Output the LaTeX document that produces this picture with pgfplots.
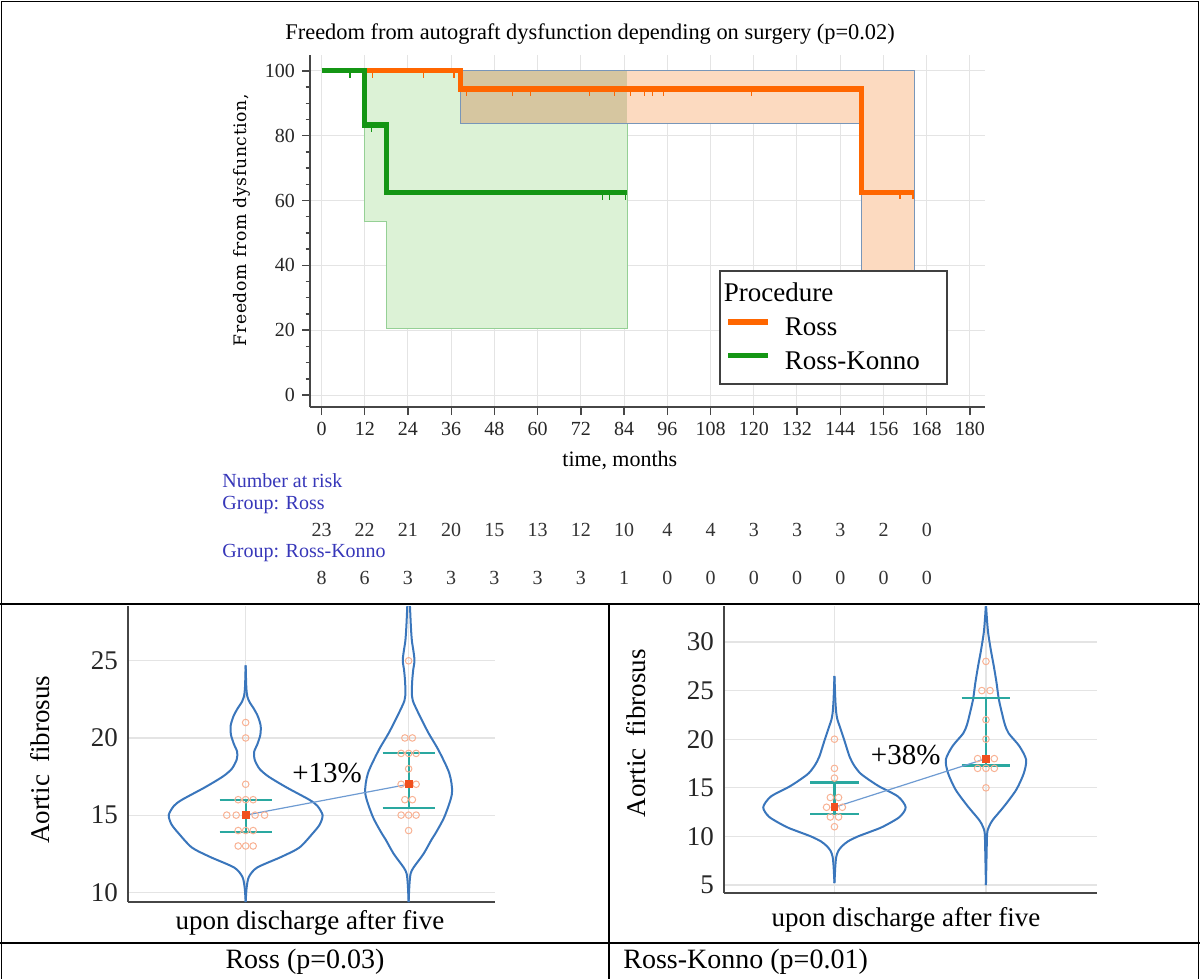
\documentclass[border=0pt]{standalone}
\usepackage{fontspec}
\setmainfont{Liberation Serif}
\newfontfamily\slabfont[LetterSpace=4]{DejaVu Serif}
\usepackage{pgfplots}
\usepackage{pgfplotstable}
\pgfplotsset{compat=1.18}
\definecolor{kmorange}{RGB}{255,102,0}
\definecolor{kmgreen}{RGB}{20,150,20}
\definecolor{bandorange}{RGB}{252,218,192}
\definecolor{bandgreen}{RGB}{220,242,214}
\definecolor{bandmix}{RGB}{214,198,160}
\definecolor{bandblue}{RGB}{120,150,185}
\definecolor{gridgray}{RGB}{228,228,228}
\definecolor{axisgray}{RGB}{70,70,70}
\definecolor{vblue}{RGB}{58,118,188}
\definecolor{ebteal}{RGB}{42,168,160}
\definecolor{meanred}{RGB}{240,80,30}
\definecolor{dotorange}{RGB}{248,178,148}
\definecolor{linkblue}{RGB}{110,155,210}
\definecolor{riskblue}{RGB}{55,55,185}

% violin outlines: y, half-width (category units)
\pgfplotstableread{
y w
9.37 0
10.3 0.006
11.0 0.02
11.6 0.07
12.3 0.22
12.9 0.33
13.8 0.41
14.4 0.455
15.0 0.472
15.6 0.44
16.0 0.39
16.8 0.25
17.5 0.14
18.0 0.085
18.6 0.055
19.1 0.052
19.6 0.072
20.2 0.09
20.8 0.092
21.4 0.075
21.9 0.05
22.3 0.025
22.7 0.01
23.3 0.004
24.7 0
}\vA
\pgfplotstableread{
y w
9.37 0
10.5 0.005
11.2 0.012
11.6 0.03
12.5 0.092
13.4 0.14
13.8 0.164
14.9 0.22
16.4 0.266
17.7 0.25
19.2 0.184
20.3 0.123
21.35 0.072
22.4 0.026
23.0 0.02
23.7 0.022
24.4 0.028
25.0 0.036
25.6 0.03
26.3 0.02
27.2 0.014
28.6 0.008
}\vB
\pgfplotstableread{
y w
5.2 0
7.0 0.006
7.9 0.012
8.5 0.025
9.0 0.05
9.5 0.09
10.0 0.155
10.5 0.24
11.0 0.32
12.0 0.43
13.0 0.47
14.1 0.42
15.1 0.3
15.8 0.23
16.5 0.17
17.3 0.13
18.2 0.1
19.9 0.065
21.3 0.035
22.0 0.02
22.7 0.012
24.0 0.006
26.5 0
}\vC
\pgfplotstableread{
y w
5.0 0
8.0 0.004
10.3 0.008
11.0 0.02
11.7 0.045
13.1 0.12
14.8 0.2
16.5 0.25
17.9 0.265
19.3 0.22
20.6 0.15
21.5 0.125
22.4 0.11
24.1 0.085
25.8 0.07
27.5 0.052
29.2 0.032
31.0 0.014
32.7 0.005
34.0 0
}\vD

\pgfplotsset{
  violinaxis/.style={
    scale only axis, anchor=south west,
    axis x line=bottom, axis y line=left,
    axis line style={-, draw=axisgray, line width=0.9pt},
    xtick={1,2}, xticklabels={,,},
    major tick length=0pt,
    grid=major, major grid style={draw=gridgray, line width=0.6pt},
    ticklabel style={font=\fontsize{13.5}{15}\selectfont, text=black!85},
    yticklabel style={xshift=-1.5pt},
    /pgf/number format/assume math mode=true,
    xlabel={upon discharge after five},
    ylabel={Aortic\hspace{0.45em}fibrosus},
    label style={font=\fontsize{13.5}{15}\selectfont},
  },
  vline/.style={vblue, line width=1pt, smooth, tension=0.45, forget plot},
  ebar/.style={ebteal, line width=1.1pt, forget plot},
  dots/.style={only marks, mark=o, mark size=1.65pt, dotorange, mark options={line width=0.5pt}, forget plot},
}

\begin{document}
\begin{tikzpicture}
%================ Kaplan-Meier =================
\begin{axis}[
  at={(155pt,-203.5pt)}, anchor=south west,
  scale only axis, width=337.5pt, height=176pt,
  xmin=-3.2, xmax=184.2, ymin=-3.7, ymax=104.9,
  axis x line=bottom, axis y line=left,
  axis line style={-, draw=axisgray, line width=1.1pt},
  xtick={0,12,...,180}, ytick={0,20,...,100}, minor y tick num=3,
  tick align=outside, major tick length=4pt, minor tick length=2.2pt,
  tick style={axisgray, line width=0.7pt},
  grid=major, major grid style={draw=gridgray, line width=0.5pt},
  ticklabel style={font=\fontsize{10}{12}\selectfont, text=black!85},
  /pgf/number format/assume math mode=true,
  title={Freedom from autograft dysfunction depending on surgery (p=0.02)},
  title style={at={(axis description cs:0.415,1.025)}, anchor=center, font=\fontsize{11.2}{13}\selectfont},
  xlabel={time, months},
  xlabel style={at={(axis description cs:0.459,-0.153)}, anchor=center, font=\fontsize{11}{12}\selectfont},
  ylabel={Freedom from dysfunction,},
  ylabel style={at={(axis description cs:-0.101,0.531)}, anchor=center, font=\slabfont\fontsize{8.6}{10}\selectfont},
  legend style={at={(axis description cs:0.945,0.0625)}, anchor=south east,
    draw=black!75, line width=0.9pt, fill=white,
    font=\fontsize{13.5}{15}\selectfont, inner xsep=3pt, inner ysep=4.5pt, row sep=3.5pt,
    nodes={inner sep=1.5pt},
    /tikz/every odd column/.append style={column sep=5.5pt}},
  legend cell align=left,
  legend image code/.code={\draw[#1, line width=2.6pt] (0pt,0.3em) -- (20pt,0.3em);},
]
% confidence bands
\addplot[fill=bandgreen, draw=kmgreen!45, line width=0.4pt, forget plot]
  coordinates {(12,100) (84.8,100) (84.8,20.7) (18,20.7) (18,53.7) (12,53.7)} -- cycle;
\addplot[fill=bandorange, draw=none, forget plot]
  coordinates {(38.5,100) (164.5,100) (164.5,25) (150,25) (150,83.8) (38.5,83.8)} -- cycle;
\addplot[fill=bandmix, draw=none, forget plot]
  coordinates {(38.5,100) (84.8,100) (84.8,83.8) (38.5,83.8)} -- cycle;
\addplot[draw=bandblue, line width=0.5pt, forget plot]
  coordinates {(38.5,100) (164.5,100) (164.5,25) (150,25) (150,83.8) (38.5,83.8) (38.5,100)};
% survival curves
\addplot[kmorange, line width=2.6pt, const plot, forget plot]
  coordinates {(0,100) (38.5,94.4) (150,62.6) (164.5,62.6)};
\addplot[kmgreen, line width=2.6pt, const plot, forget plot]
  coordinates {(0,100) (12,83.3) (18,62.4) (84.8,62.4)};
% censoring ticks
\addplot[only marks, mark=|, mark size=1.75pt, kmorange, mark options={line width=0.6pt}, forget plot]
  coordinates {(14.2,98.9) (28.2,98.9) (36.8,98.9)
    (40.2,93.3) (53,93.3) (58.1,93.3) (74.4,93.3) (81.3,93.3) (85.8,93.3) (89.7,93.3) (91.8,93.3) (95,93.3) (119.3,93.3)
    (160.6,61.5) (164.2,61.5)};
\addplot[only marks, mark=|, mark size=1.75pt, kmgreen, mark options={line width=0.6pt}, forget plot]
  coordinates {(7.9,98.9) (13.9,82.2) (77.9,61.3) (80,61.3) (84.4,61.3)};
% legend
\addlegendimage{empty legend}
\addlegendentry{\hspace*{-30.5pt}Procedure}
\addlegendimage{kmorange}
\addlegendentry{Ross}
\addlegendimage{kmgreen}
\addlegendentry{Ross-Konno\hspace*{9pt}}
\end{axis}

%================ Violin: Ross =================
\begin{axis}[violinaxis,
  at={(64pt,-451pt)}, width=183.5pt, height=148pt,
  xmin=0.278, xmax=2.53, ymin=9.37, ymax=28.55,
  ytick={10,15,20,25},
  xlabel style={at={(axis description cs:0.496,-0.071)}, anchor=center},
  ylabel style={at={(axis description cs:-0.24,0.48)}, anchor=center},
]
\addplot[vline] table[x expr=1+\thisrow{w}, y=y] {\vA};
\addplot[vline] table[x expr=1-\thisrow{w}, y=y] {\vA};
\addplot[vline] table[x expr=2+\thisrow{w}, y=y] {\vB};
\addplot[vline] table[x expr=2-\thisrow{w}, y=y] {\vB};
\addplot[dots] coordinates {(1,21) (1,20) (1,17) (0.954,16) (1,16) (1.046,16)
  (0.884,15) (0.942,15) (1,15) (1.058,15) (1.116,15) (0.954,14) (1,14) (1.046,14)
  (0.954,13) (1,13) (1.046,13)};
\addplot[dots] coordinates {(2,25) (1.977,20) (2.023,20) (1.954,19) (2,19) (2.046,19)
  (2,18) (1.954,17) (2,17) (2.046,17) (1.977,16) (2.023,16) (1.954,15) (2,15) (2.046,15) (2,14)};
\addplot[ebar] coordinates {(0.84,16) (1.16,16)};
\addplot[ebar] coordinates {(0.84,13.9) (1.16,13.9)};
\addplot[ebar] coordinates {(1,13.9) (1,16)};
\addplot[ebar] coordinates {(1.84,19) (2.16,19)};
\addplot[ebar] coordinates {(1.84,15.45) (2.16,15.45)};
\addplot[ebar] coordinates {(2,15.45) (2,19)};
\addplot[linkblue, line width=0.6pt, forget plot] coordinates {(1,15) (2,17)};
\addplot[only marks, mark=square*, mark size=1.7pt, meanred, forget plot] coordinates {(1,15) (2,17)};
\node[font=\fontsize{14.5}{16}\selectfont] at (axis cs:1.5,17.7) {+13\%};
\end{axis}

%================ Violin: Ross-Konno =================
\begin{axis}[violinaxis,
  at={(362pt,-446.5pt)}, width=186.5pt, height=143.5pt,
  xmin=0.271, xmax=2.733, ymin=4.18, ymax=33.7,
  ytick={5,10,...,30},
  xlabel style={at={(axis description cs:0.488,-0.094)}, anchor=center},
  ylabel style={at={(axis description cs:-0.236,0.557)}, anchor=center},
]
\addplot[vline] table[x expr=1+\thisrow{w}, y=y] {\vC};
\addplot[vline] table[x expr=1-\thisrow{w}, y=y] {\vC};
\addplot[vline] table[x expr=2+\thisrow{w}, y=y] {\vD};
\addplot[vline] table[x expr=2-\thisrow{w}, y=y] {\vD};
\addplot[dots] coordinates {(1,20) (1,17) (1,16) (0.973,14) (1.027,14)
  (0.948,13) (1,13) (1.052,13) (0.973,12) (1.027,12) (1,11)};
\addplot[dots] coordinates {(2,28) (1.973,25) (2.027,25) (2,22) (2,20)
  (1.945,18) (2,18) (2.055,18) (1.945,17) (2,17) (2.055,17) (2,15)};
\addplot[ebar] coordinates {(0.84,15.55) (1.16,15.55)};
\addplot[ebar] coordinates {(0.84,12.3) (1.16,12.3)};
\addplot[ebar] coordinates {(1,12.3) (1,15.55)};
\addplot[ebar] coordinates {(1.84,24.25) (2.16,24.25)};
\addplot[ebar] coordinates {(1.84,17.3) (2.16,17.3)};
\addplot[ebar] coordinates {(2,17.3) (2,24.25)};
\addplot[linkblue, line width=0.6pt, forget plot] coordinates {(1,13) (2,18)};
\addplot[only marks, mark=square*, mark size=1.7pt, meanred, forget plot] coordinates {(1,13) (2,18)};
\node[font=\fontsize{14.5}{16}\selectfont] at (axis cs:1.47,18.4) {+38\%};
\end{axis}

%================ frame, risk table, captions (pixel units) =================
\begin{scope}[x=0.5pt, y=-0.5pt]
\draw[line width=0.8pt] (1.5,979) -- (1.5,1.5) -- (1198.5,1.5) -- (1198.5,979);
\draw[line width=0.8pt] (0,604) -- (1200,604);
\draw[line width=0.8pt] (0,943) -- (1200,943);
\draw[line width=0.8pt] (609,604) -- (609,979);
\begin{scope}[every node/.style={font=\fontsize{10}{12}\selectfont, inner sep=0pt}]
\node[anchor=west, text=riskblue] at (222,481) {Number at risk};
\node[anchor=west, text=riskblue] at (222,505) {Group: Ross};
\node[anchor=west, text=riskblue] at (222,553) {Group: Ross-Konno};
\foreach \n [count=\k from 0] in {23,22,21,20,15,13,12,10,4,4,3,3,3,2,0}
  \node[text=black!80] at ({321.5+43.24*\k},530) {\n};
\foreach \n [count=\k from 0] in {8,6,3,3,3,3,3,1,0,0,0,0,0,0,0}
  \node[text=black!80] at ({321.5+43.24*\k},578) {\n};
\end{scope}
\node[font=\fontsize{14}{16}\selectfont] at (305,962) {Ross (p=0.03)};
\node[font=\fontsize{14}{16}\selectfont, anchor=west, inner sep=0pt] at (623,962) {Ross-Konno (p=0.01)};
\end{scope}
\pgfresetboundingbox
\useasboundingbox (0pt,0pt) rectangle (600pt,-489.5pt);
\end{tikzpicture}
\end{document}
